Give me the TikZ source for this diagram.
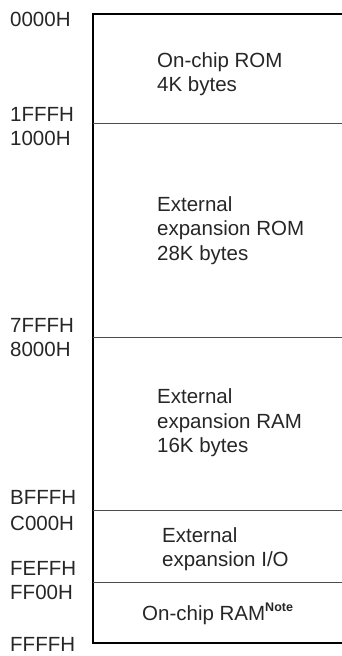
\documentclass[tikz,border=0pt]{standalone}
\usepackage{fontspec}
\setmainfont{Liberation Sans}

\begin{document}
\begin{tikzpicture}[x=1pt, y=-1pt,
    addr/.style={anchor=west, inner sep=0pt, font=\fontsize{20.5}{24}\selectfont, text=black!85},
    region/.style={anchor=west, inner sep=0pt, align=left, font=\fontsize{20.5}{24.5}\selectfont, text=black!85},
    outline/.style={line width=2pt, black},
    divider/.style={line width=1pt, black!70}
]
    \useasboundingbox (0,0) rectangle (342,656);

    % Map outline
    \coordinate (topleft) at (93,14);
    \coordinate (topright) at (342,14);
    \coordinate (botleft) at (93,643);
    \coordinate (botright) at (342,643);
    \draw[outline] (topright) -- (topleft) -- (botleft) -- (botright);

    % Boundaries
    \draw[divider] (93,123) -- (342,123);
    \draw[divider] (93,337) -- (342,337);
    \draw[divider] (93,510) -- (342,510);
    \draw[divider] (93,582) -- (342,582);

    % Addresses
    \node[addr] (a0000) at (10,19.5) {0000H};
    \node[addr] (a1fff) at (10,114) {1FFFH};
    \node[addr] (a1000) at (10,138) {1000H};
    \node[addr] (a7fff) at (10,325) {7FFFH};
    \node[addr] (a8000) at (10,349.5) {8000H};
    \node[addr] (abfff) at (10,497.5) {BFFFH};
    \node[addr] (ac000) at (10,523) {C000H};
    \node[addr] (afeff) at (10,568) {FEFFH};
    \node[addr] (aff00) at (10,592) {FF00H};
    \node[addr] (affff) at (10,644.5) {FFFFH};

    % Regions
    \node[region] (onrom) at (157,74) {On-chip ROM\\4K bytes};
    \node[region] (extrom) at (157,230.5) {External\\expansion ROM\\28K bytes};
    \node[region] (extram) at (157,423) {External\\expansion RAM\\16K bytes};
    \node[region] (extio) at (162,549) {External\\expansion I/O};
    \node[region] (onram) at (142,614) {On-chip RAM\raisebox{9pt}{\fontsize{12.5}{12.5}\selectfont\bfseries Note}};

\end{tikzpicture}
\end{document}
